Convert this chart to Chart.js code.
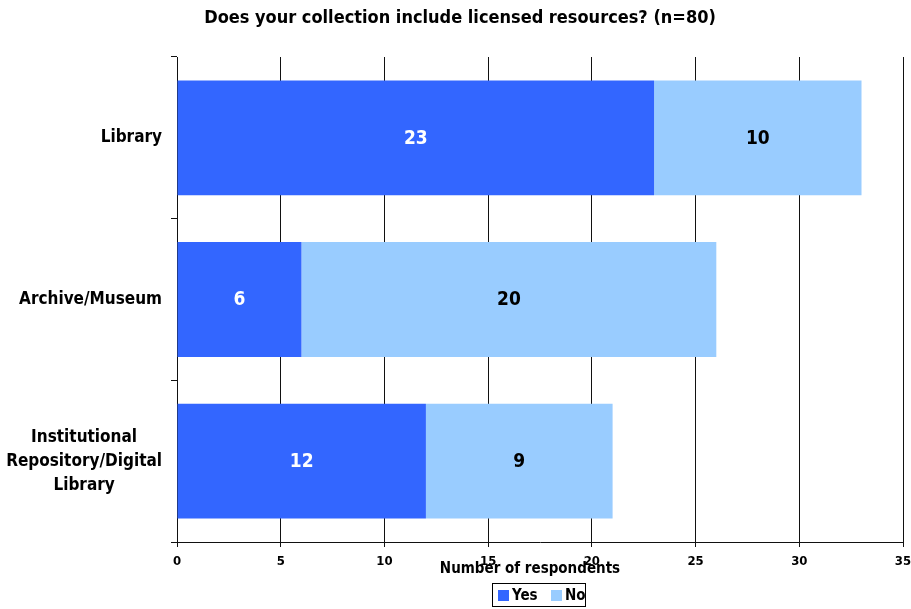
<!DOCTYPE html>
<html>
<head>
<meta charset="utf-8">
<script src="https://cdn.jsdelivr.net/npm/chart.js@4/dist/chart.umd.min.js"></script>
<style>
  html, body { margin: 0; padding: 0; background: #fff; }
  #wrap { width: 911px; height: 609px; }
</style>
</head>
<body>
<div id="wrap"><canvas id="c" width="911" height="609"></canvas></div>
<script>
// Survey answers per institution type
const categories = [
  ["Library"],
  ["Archive/Museum"],
  ["Institutional", "Repository/Digital", "Library"]
];
const yesValues = [23, 6, 12];
const noValues = [10, 20, 9];
const seriesNames = ["Yes", "No"];
const xTicks = [0, 5, 10, 15, 20, 25, 30, 35];
const chartTitle = "Does your collection include licensed resources? (n=80)";
const xAxisTitle = "Number of respondents";

const FONT = '"DejaVu Sans Condensed", "DejaVu Sans", sans-serif';
const YES_COLOR = "#3366FF";
const NO_COLOR = "#99CCFF";

// Draws title, category labels, value labels, axis title and boxed legend
const decorations = {
  id: "decorations",
  afterDraw(chart) {
    const ctx = chart.ctx;
    const yScale = chart.scales.y;
    ctx.save();

    // Title
    ctx.fillStyle = "#000";
    ctx.font = "bold 18px " + FONT;
    ctx.textAlign = "center";
    ctx.textBaseline = "middle";
    ctx.fillText(chartTitle, 460, 18);

    // Category labels: lines centered on each other, block right-aligned
    ctx.font = "bold 17px " + FONT;
    const lineH = 24;
    categories.forEach((lines, i) => {
      const cy = yScale.getPixelForValue(i);
      let maxW = 0;
      lines.forEach(l => { maxW = Math.max(maxW, ctx.measureText(l).width); });
      const cx = 162 - maxW / 2;
      const startY = cy - (lines.length - 1) * lineH / 2;
      lines.forEach((l, k) => ctx.fillText(l, cx, startY + k * lineH));
    });

    // Value labels centred in each segment
    ctx.font = "bold 19px " + FONT;
    chart.data.datasets.forEach((ds, di) => {
      const meta = chart.getDatasetMeta(di);
      meta.data.forEach((bar, i) => {
        const p = bar.getProps(["x", "y", "base"], true);
        const cx = (p.x + p.base) / 2;
        ctx.fillStyle = di === 0 ? "#fff" : "#000";
        ctx.fillText(String(ds.data[i]), cx, p.y + 1);
      });
    });

    // X axis title
    ctx.fillStyle = "#000";
    ctx.font = "bold 15px " + FONT;
    ctx.fillText(xAxisTitle, 530, 569);

    // Legend with border
    const lx = 492, ly = 583, lw = 93, lh = 23;
    ctx.strokeStyle = "#000";
    ctx.lineWidth = 1;
    ctx.strokeRect(lx + 0.5, ly + 0.5, lw, lh);
    ctx.font = "bold 15px " + FONT;
    ctx.textAlign = "left";
    const items = [
      { x: 498, color: YES_COLOR, label: seriesNames[0] },
      { x: 551, color: NO_COLOR, label: seriesNames[1] }
    ];
    items.forEach(it => {
      ctx.fillStyle = it.color;
      ctx.fillRect(it.x, ly + 7, 11, 11);
      ctx.fillStyle = "#000";
      ctx.fillText(it.label, it.x + 14, ly + 13);
    });

    ctx.restore();
  }
};

new Chart(document.getElementById("c"), {
  type: "bar",
  data: {
    labels: categories.map(c => c.join(" ")),
    datasets: [
      { label: seriesNames[0], data: yesValues, backgroundColor: YES_COLOR },
      { label: seriesNames[1], data: noValues, backgroundColor: NO_COLOR }
    ]
  },
  options: {
    indexAxis: "y",
    responsive: false,
    animation: false,
    devicePixelRatio: 1,
    layout: { padding: { top: 57, right: 0, left: 0, bottom: 0 } },
    plugins: {
      legend: { display: false },
      title: { display: false },
      tooltip: { enabled: false }
    },
    datasets: {
      bar: { categoryPercentage: 1, barPercentage: 0.71, borderWidth: 0 }
    },
    scales: {
      x: {
        stacked: true,
        min: 0,
        max: 35,
        afterBuildTicks(scale) { scale.ticks = xTicks.map(v => ({ value: v })); },
        afterFit(scale) {
          scale.height = 67;
          scale.paddingRight = 8;
        },
        grid: {
          color: "#111",
          lineWidth: 1,
          drawTicks: true,
          tickLength: 5,
          tickColor: "#111"
        },
        border: { display: true, color: "#111", width: 1 },
        ticks: {
          color: "#000",
          font: { family: FONT, size: 13, weight: "bold" },
          padding: 7,
          maxRotation: 0
        }
      },
      y: {
        stacked: true,
        afterFit(scale) { scale.width = 177; },
        grid: {
          offset: true,
          drawOnChartArea: false,
          drawTicks: true,
          tickLength: 6,
          tickColor: "#111"
        },
        border: { display: true, color: "#111", width: 1 },
        ticks: { display: false }
      }
    }
  },
  plugins: [decorations]
});
</script>
</body>
</html>
